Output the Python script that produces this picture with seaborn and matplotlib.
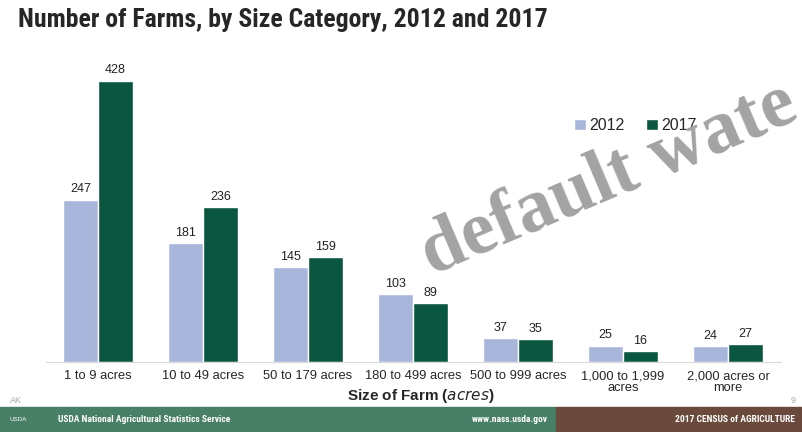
import matplotlib.pyplot as plt
import matplotlib.patches as mpatches
import pandas as pd
import seaborn as sns
from matplotlib import font_manager

categories = ['1 to 9 acres', '10 to 49 acres', '50 to 179 acres', '180 to 499 acres',
              '500 to 999 acres', '1,000 to 1,999\nacres', '2,000 acres or\nmore']
farms_2012 = [247, 181, 145, 103, 37, 25, 24]
farms_2017 = [428, 236, 159, 89, 35, 16, 27]
years = ['2012', '2017']

df = pd.DataFrame({
    'size': categories * 2,
    'year': [years[0]] * len(categories) + [years[1]] * len(categories),
    'farms': farms_2012 + farms_2017,
})

sns.set_style('white')
plt.rcParams['font.family'] = ['Liberation Sans', 'DejaVu Sans']

# condensed face for the title / footer, if there is one
names = {f.name for f in font_manager.fontManager.ttflist}
narrow = [n for n in ['Liberation Sans Narrow', 'DejaVu Sans Condensed', 'Roboto Condensed']
          if n in names]
narrow_family = narrow + ['Liberation Sans']

fig = plt.figure(figsize=(8.03, 4.32), dpi=100)
ax = fig.add_axes([0.0567, 0.162, 0.9153, 0.688])

sns.barplot(data=df, x='size', y='farms', hue='year', palette=['#a9b6dc', '#0b5640'],
            width=0.667, saturation=1, ax=ax)
for c in ax.containers:
    ax.bar_label(c, padding=3, fontsize=9, color='#222222')

ax.set_ylim(0, 452)
ax.set_yticks([])
ax.set_ylabel('')
ax.set_xlabel('Size of Farm ($\\mathit{acres}$)', fontsize=11, fontweight='bold')
ax.xaxis.set_label_coords(0.51, -0.083)
ax.tick_params(axis='x', labelsize=9.3, length=0, pad=6)
for lbl in ax.get_xticklabels():
    lbl.set_linespacing(1.0)
for s in ['top', 'right', 'left']:
    ax.spines[s].set_visible(False)
ax.spines['bottom'].set_color('#d9d9d9')

ax.legend(loc='upper left', bbox_to_anchor=(0.70, 0.87), ncol=2, frameon=False,
          fontsize=11.5, handlelength=0.7, handleheight=0.7, handletextpad=0.2,
          columnspacing=1.4, title=None)

title_size = 18.5 if narrow else 13
fig.text(0.022, 0.953, 'Number of Farms, by Size Category, 2012 and 2017',
         fontsize=title_size, fontweight='bold', family=narrow_family,
         va='center', ha='left')

# watermark (cut off at the right edge, as in the source slide)
fig.text(0.758, 0.585, 'default wate', fontsize=55, fontweight='bold', family='Liberation Serif',
         color='#a3a3a3', rotation=23, ha='center', va='center')

# side marks
fig.text(0.012, 0.063, 'AK', fontsize=6.5, color='#aaaaaa', va='bottom')
fig.text(0.985, 0.063, '9', fontsize=6.5, color='#aaaaaa', va='bottom')

# footer band
fig.patches.append(mpatches.Rectangle((0, 0), 0.692, 0.058, transform=fig.transFigure,
                                      color='#487f67', zorder=0))
fig.patches.append(mpatches.Rectangle((0.692, 0), 0.308, 0.058, transform=fig.transFigure,
                                      color='#6a4a3c', zorder=0))
fig.text(0.072, 0.028, 'USDA National Agricultural Statistics Service', fontsize=6.8,
         fontweight='bold', color='white', va='center', family=narrow_family)
fig.text(0.682, 0.028, 'www.nass.usda.gov', fontsize=6.8, fontweight='bold', color='white',
         va='center', ha='right', family=narrow_family)
fig.text(0.99, 0.028, '2017 CENSUS of AGRICULTURE', fontsize=6.8, fontweight='bold',
         color='white', va='center', ha='right', family=narrow_family)
fig.text(0.012, 0.028, 'USDA', fontsize=4.5, color='white', va='center')

fig.savefig('out.png', dpi=100)
